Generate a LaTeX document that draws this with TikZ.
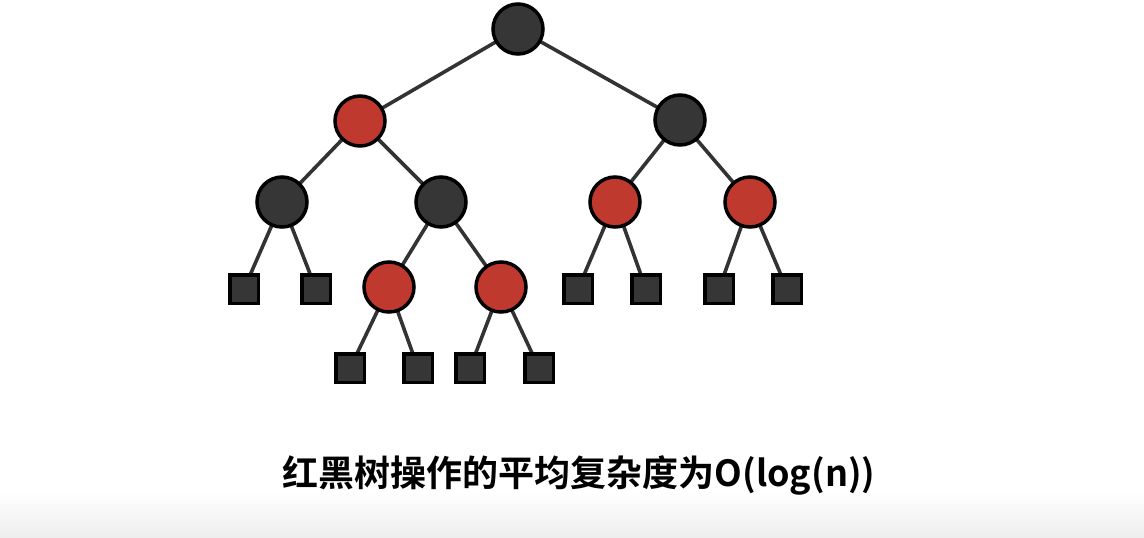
\documentclass[tikz,border=0pt]{standalone}
\usepackage{fontspec}
\usetikzlibrary{backgrounds}
\newfontfamily\cjk{Noto Sans CJK SC}[BoldFont={* Bold}]
\definecolor{nodeblack}{HTML}{363636}
\definecolor{nodered}{HTML}{C0392F}
\definecolor{edgegray}{HTML}{333333}
\tikzset{
  blk/.style={circle, draw=black, line width=3.5pt, fill=nodeblack, minimum size=50pt, inner sep=0pt},
  rd/.style={circle, draw=black, line width=3.5pt, fill=nodered, minimum size=50pt, inner sep=0pt},
  leaf/.style={rectangle, draw=black, line width=3.5pt, fill=nodeblack, minimum size=28.5pt, inner sep=0pt},
  edge/.style={draw=edgegray, line width=3.6pt}
}
\begin{document}
\begin{tikzpicture}[x=1pt,y=-1pt]
\useasboundingbox (0,0) rectangle (1144,538);
% nodes
\node[blk] (r) at (518,29) {};
\node[rd] (a) at (360,121) {};
\node[blk] (b) at (680,120) {};
\node[blk] (c) at (282,202) {};
\node[blk] (d) at (441,202) {};
\node[rd] (e) at (615,202) {};
\node[rd] (f) at (750,202) {};
\node[leaf] (c1) at (244,289) {};
\node[leaf] (c2) at (316,289) {};
\node[rd] (g) at (389,287) {};
\node[rd] (h) at (501,287) {};
\node[leaf] (e1) at (578,289) {};
\node[leaf] (e2) at (646,289) {};
\node[leaf] (f1) at (719,289) {};
\node[leaf] (f2) at (787,289) {};
\node[leaf] (g1) at (350,368) {};
\node[leaf] (g2) at (418,368) {};
\node[leaf] (h1) at (470,368) {};
\node[leaf] (h2) at (539,368) {};
\node[anchor=base] (t) at (579,486) {\cjk\bfseries\fontsize{36}{36}\selectfont 红黑树操作的平均复杂度为O(log(n))};
\begin{pgfonlayer}{background}
\fill[white] (0,0) rectangle (1144,538);
\shade[top color=white, bottom color=black!7] (0,492) rectangle (1144,538);
\draw[edge] (r.center) -- (a.center);
\draw[edge] (r.center) -- (b.center);
\draw[edge] (a.center) -- (c.center);
\draw[edge] (a.center) -- (d.center);
\draw[edge] (b.center) -- (e.center);
\draw[edge] (b.center) -- (f.center);
\draw[edge] (c.center) -- (c1.center);
\draw[edge] (c.center) -- (c2.center);
\draw[edge] (d.center) -- (g.center);
\draw[edge] (d.center) -- (h.center);
\draw[edge] (e.center) -- (e1.center);
\draw[edge] (e.center) -- (e2.center);
\draw[edge] (f.center) -- (f1.center);
\draw[edge] (f.center) -- (f2.center);
\draw[edge] (g.center) -- (g1.center);
\draw[edge] (g.center) -- (g2.center);
\draw[edge] (h.center) -- (h1.center);
\draw[edge] (h.center) -- (h2.center);
\end{pgfonlayer}
\end{tikzpicture}
\end{document}
